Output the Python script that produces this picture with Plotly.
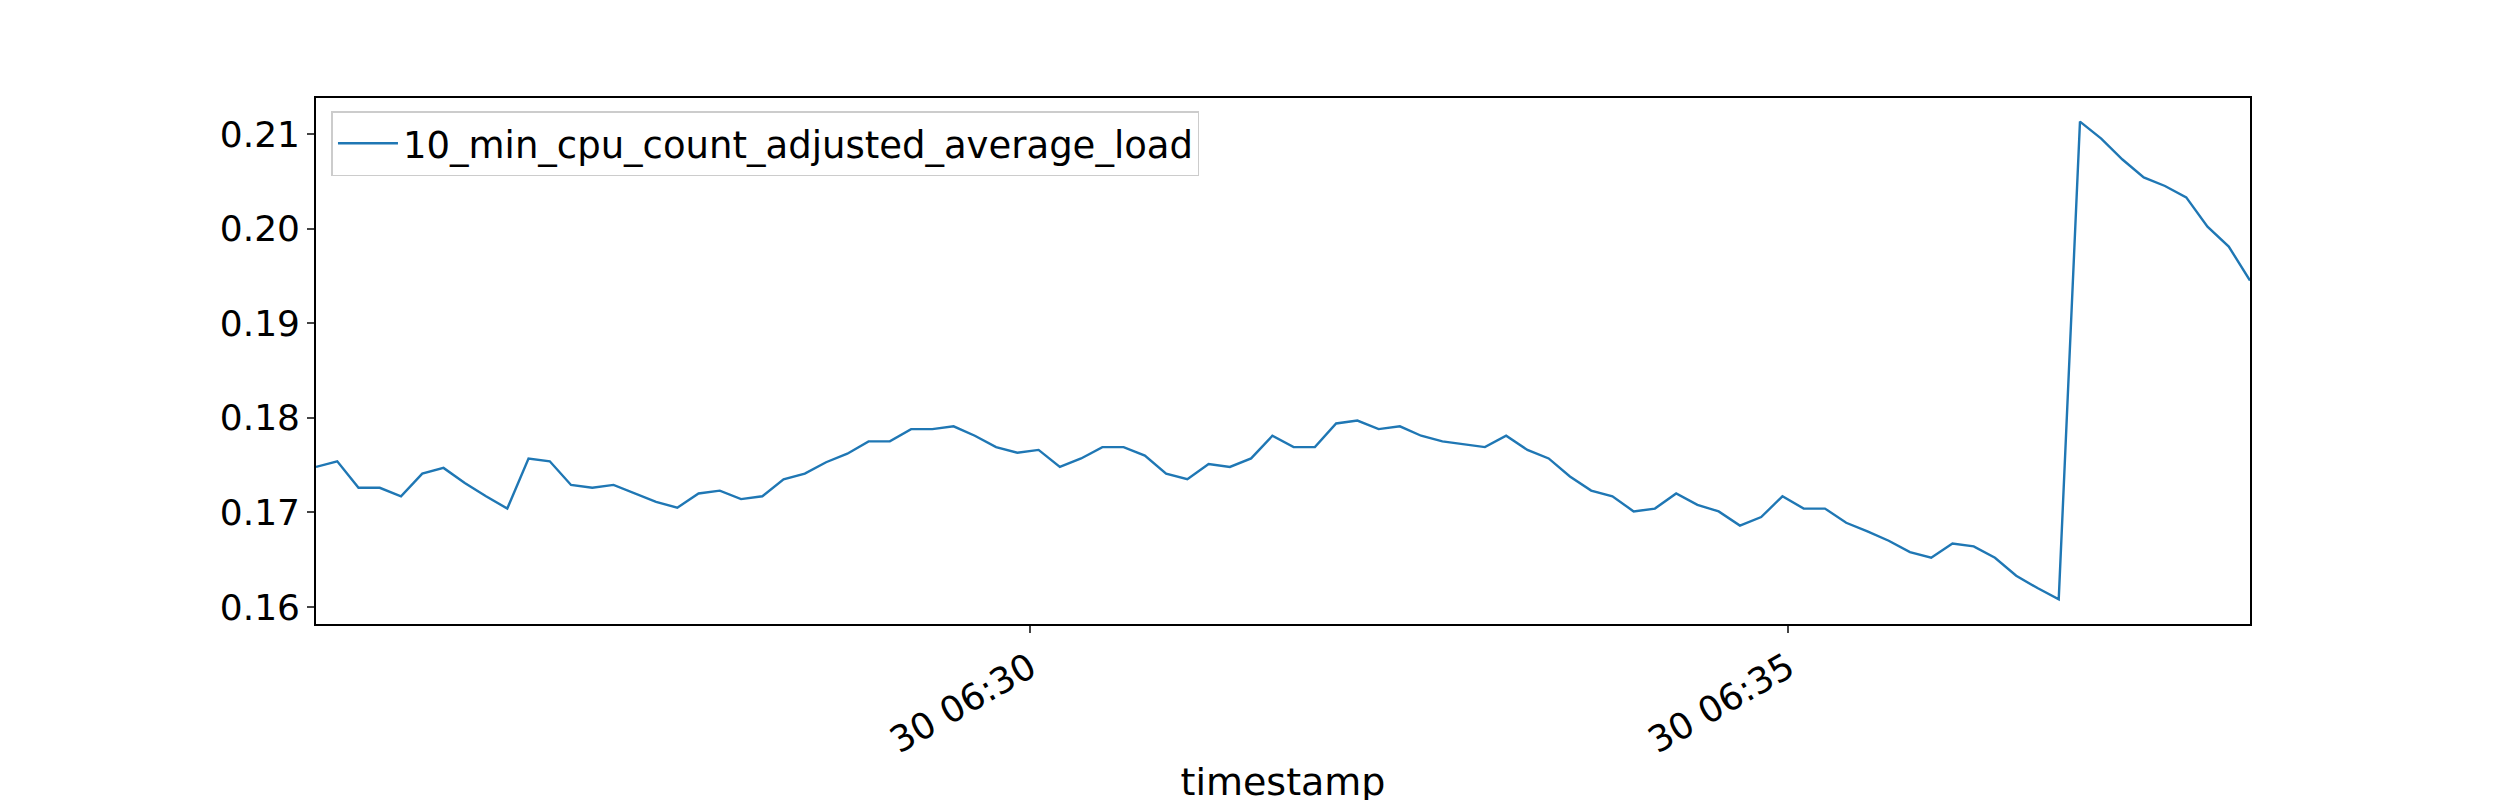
import pandas as pd
import plotly.graph_objects as go

load = [0.1748, 0.1754, 0.1726, 0.1726, 0.1717, 0.1741, 0.1747, 0.1731, 0.1717, 0.1704,
        0.1757, 0.1754, 0.1729, 0.1726, 0.1729, 0.1720, 0.1711, 0.1705, 0.1720, 0.1723,
        0.1714, 0.1717, 0.1735, 0.1741, 0.1753, 0.1762, 0.1775, 0.1775, 0.1788, 0.1788,
        0.1791, 0.1781, 0.1769, 0.1763, 0.1766, 0.1748, 0.1757, 0.1769, 0.1769, 0.1760,
        0.1741, 0.1735, 0.1751, 0.1748, 0.1757, 0.1781, 0.1769, 0.1769, 0.1794, 0.1797,
        0.1788, 0.1791, 0.1781, 0.1775, 0.1772, 0.1769, 0.1781, 0.1766, 0.1757, 0.1738,
        0.1723, 0.1717, 0.1701, 0.1704, 0.1720, 0.1708, 0.1701, 0.1686, 0.1695, 0.1717,
        0.1704, 0.1704, 0.1689, 0.1680, 0.1670, 0.1658, 0.1652, 0.1667, 0.1664, 0.1652,
        0.1633, 0.1620, 0.1608, 0.2113, 0.2095, 0.2073, 0.2054, 0.2045, 0.2033, 0.2002,
        0.1981, 0.1945]
t_start = pd.Timestamp("2024-01-30 06:25:17.6")
t_end = pd.Timestamp("2024-01-30 06:38:02.8")
timestamp = pd.date_range(t_start, t_end, periods=len(load))

font = "DejaVu Sans"
fig = go.Figure(go.Scatter(x=timestamp, y=load, mode="lines",
                           line=dict(color="#1f77b4", width=2.4),
                           name="10_min_cpu_count_adjusted_average_load"))

axis = dict(showline=True, linecolor="black", linewidth=1.6, mirror=True,
            ticks="outside", ticklen=7, tickwidth=1.6, showgrid=False, zeroline=False,
            tickfont=dict(size=36, color="black"))
fig.update_xaxes(**axis, range=[t_start, t_end], dtick=300000, tickformat="%d %H:%M",
                 tickangle=-30, title=dict(text="timestamp", standoff=8,
                                           font=dict(size=38, color="black")))
fig.update_yaxes(**axis, range=[0.1582, 0.2138], dtick=0.01, tickformat=".2f")
fig.update_layout(width=2500, height=800, plot_bgcolor="white", paper_bgcolor="white",
                  font=dict(family=font), showlegend=True,
                  margin=dict(l=308, r=258, t=90, b=154),
                  legend=dict(x=0.008, y=0.975, xanchor="left", yanchor="top",
                              bordercolor="#cccccc", borderwidth=1.5, itemwidth=60,
                              font=dict(size=37, color="black")))
fig.write_html("out.html")
